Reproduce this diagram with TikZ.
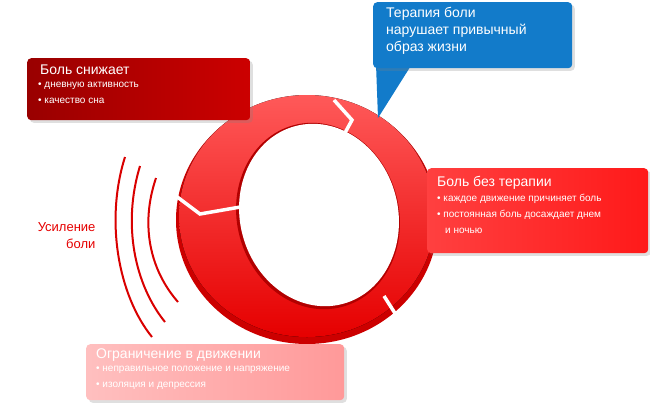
\documentclass[tikz,border=0pt]{standalone}
\usepackage{fontspec}
\setmainfont{Liberation Sans}
\usetikzlibrary{shadows}
\begin{document}
\begin{tikzpicture}[x=1pt,y=-1pt,
  box/.style={rounded corners=4pt,drop shadow={opacity=0.25}},
  ttl/.style={anchor=north west,text=white,font=\fontsize{14}{16}\selectfont,inner sep=0pt},
  itm/.style={anchor=north west,text=white,font=\fontsize{10}{16}\selectfont,inner sep=0pt,align=left},
  wave/.style={draw=red!85!black,line width=2pt}]
\useasboundingbox (0,0) rectangle (650,416);
% ring
\fill[red!80!black] (307,220) ellipse [x radius=131, y radius=124];
\fill[top color=red!65,bottom color=red!90!black] (307,216) ellipse [x radius=128, y radius=121];
\fill[red!70!black] (318,216) [rotate around={15:(318,216)}] ellipse [x radius=81, y radius=94];
\fill[white] (319,215) [rotate around={15:(319,215)}] ellipse [x radius=79, y radius=92];
% gaps
\draw[white,line width=3.5pt] (334,100) -- (352,120) -- (340,142);
\draw[white,line width=3.5pt] (384,296) -- (398,318) -- (394,342);
\draw[white,line width=3.5pt] (176,196) -- (200,214) -- (246,206);
% waves
\draw[wave] (125,157) .. controls (105,220) and (118,295) .. (152,337);
\draw[wave] (140,166) .. controls (122,225) and (135,285) .. (165,322);
\draw[wave] (156,178) .. controls (140,225) and (150,270) .. (178,302);
\node (us) [anchor=east,text=red!90!black,align=right,font=\fontsize{13}{17}\selectfont] at (99,236) {Усиление\\боли};
% box 1
\node (b1) [box,left color=red!60!black,right color=red!80!black,minimum width=223pt,minimum height=62pt,anchor=north west] at (27,58) {};
\node[ttl] at (40,65) {Боль снижает};
\node[itm] at (38,82) {• дневную активность\\• качество сна};
% blue
\fill[cyan!60!blue] (376,64) -- (378,118) -- (412,64) -- cycle;
\node (b2) [box,fill=cyan!60!blue,minimum width=199pt,minimum height=66pt,anchor=north west] at (373,2) {};
\node[anchor=north west,text=white,align=left,font=\fontsize{14}{17}\selectfont,inner sep=0pt] at (386,7) {Терапия боли\\нарушает привычный\\образ жизни};
% right
\node (b3) [box,left color=red!75,right color=red!90,minimum width=221pt,minimum height=85pt,anchor=north west] at (427,168) {};
\node[ttl] at (437,176) {Боль без терапии};
\node[itm] at (437,194) {• каждое движение причиняет боль\\• постоянная боль досаждает днем\\\hspace*{8pt}и ночью};
% bottom
\node (b4) [box,left color=red!25,right color=red!40,minimum width=258pt,minimum height=56pt,anchor=north west] at (86,344) {};
\node[ttl] at (96,349) {Ограничение в движении};
\node[itm] at (96,366) {• неправильное положение и напряжение\\• изоляция и депрессия};
\end{tikzpicture}
\end{document}
